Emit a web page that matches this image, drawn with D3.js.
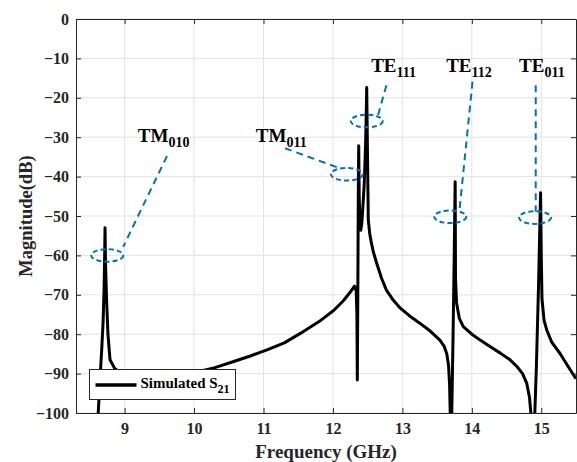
<!DOCTYPE html>
<html lang="en">
<head>
<meta charset="utf-8">
<title>Simulated S21</title>
<script src="https://d3js.org/d3.v7.min.js"></script>
<style>
  body { margin: 0; background: #fff; }
  text { font-family: "Liberation Serif", "Times New Roman", serif; font-weight: bold; }
</style>
</head>
<body>
<script>
// simulated S21 (GHz, dB)
var freq = [8.58, 8.62, 8.65, 8.67, 8.69, 8.705, 8.712, 8.718, 8.725, 8.735, 8.74, 8.76, 8.79, 8.86, 8.95,
  9.1, 9.3, 9.6, 9.9, 10.1, 10.3, 10.56, 10.8, 11.05, 11.3, 11.53, 11.8, 12.01, 12.15, 12.25, 12.31,
  12.335, 12.345, 12.351, 12.358, 12.365, 12.371, 12.378, 12.388, 12.40, 12.415, 12.43, 12.45, 12.47,
  12.482, 12.486, 12.492, 12.50, 12.509, 12.53, 12.55, 12.58, 12.63, 12.7, 12.77, 12.87, 12.97, 13.1,
  13.25, 13.4, 13.54, 13.6, 13.64, 13.665, 13.68, 13.69, 13.70, 13.71, 13.73, 13.745, 13.755, 13.76,
  13.765, 13.78, 13.82, 13.877, 14.0, 14.12, 14.25, 14.41, 14.55, 14.65, 14.73, 14.79, 14.83, 14.855,
  14.88, 14.905, 14.93, 14.96, 14.98, 14.99, 15.0, 15.01, 15.04, 15.08, 15.15, 15.27, 15.38, 15.5];
var s21 = [-108, -100, -90, -84, -77, -68, -61, -53, -62, -68, -71, -80, -86.5, -88.8, -89.8,
  -90.4, -90.7, -90.5, -89.9, -89.3, -88.5, -87, -85.6, -84, -82.2, -79.8, -76.8, -74, -71.5, -69.3, -67.8,
  -69, -75, -91.6, -70, -45, -32.2, -45, -51, -53.6, -52, -48, -42, -32,
  -22, -17.4, -26, -38, -51, -54.5, -56.5, -59, -62, -65.8, -68.8, -71.4, -73.4, -75.3,
  -77.2, -79.2, -81.5, -83, -85, -88, -93, -101, -110, -101, -80, -62, -48, -41.3,
  -66, -72, -76, -78.1, -80, -81.5, -83, -84.8, -86.5, -88.2, -90, -92.4, -96, -101,
  -110, -101, -88, -68, -52, -44.1, -60, -71, -76.5, -79, -82, -84.9, -88, -91.3];

var xTicks = [9, 10, 11, 12, 13, 14, 15];
var yTicks = [0, -10, -20, -30, -40, -50, -60, -70, -80, -90, -100];

// mode annotations
var modeName = ["TM", "TM", "TE", "TE", "TE"];
var modeSub = ["010", "011", "111", "112", "011"];
var labelF = [9.19, 10.89, 12.55, 13.63, 14.68];
var labelDb = [-31.1, -31.1, -13.4, -13.4, -13.4];
var ringF = [8.75, 12.2, 12.486, 13.69, 14.91];
var ringDb = [-60, -39.4, -25.9, -50.2, -50.4];
var leadF0 = [9.61, 11.31, 12.77, 14.01, 14.92];
var leadDb0 = [-34.8, -32.8, -16.8, -15.9, -16.8];
var leadF1 = [8.98, 12.10, 12.65, 13.82, 14.92];
var leadDb1 = [-57.8, -37.9, -24.4, -48.9, -48.9];

var W = 577, H = 462;
var padL = 76, padR = 576, padT = 19, padB = 413;
var blue = "#0072BD";

var svg = d3.select("body").append("svg")
  .attr("width", W)
  .attr("height", H);

var x = d3.scaleLinear().domain([8.3, 15.5]).range([padL, padR]);
var y = d3.scaleLinear().domain([-100, 0]).range([padB, padT]);

// grid
svg.append("g").selectAll("line").data(xTicks).enter().append("line")
  .attr("x1", d => x(d)).attr("x2", d => x(d))
  .attr("y1", padT).attr("y2", padB)
  .attr("stroke", "#e3e3e3").attr("stroke-width", 1);
svg.append("g").selectAll("line").data(yTicks).enter().append("line")
  .attr("x1", padL).attr("x2", padR)
  .attr("y1", d => y(d)).attr("y2", d => y(d))
  .attr("stroke", "#e3e3e3").attr("stroke-width", 1);

// curve
svg.append("clipPath").attr("id", "plot")
  .append("rect").attr("x", padL).attr("y", padT)
  .attr("width", padR - padL).attr("height", padB - padT);

var line = d3.line()
  .x(d => x(d[0]))
  .y(d => y(d[1]));

svg.append("path")
  .datum(d3.zip(freq, s21))
  .attr("clip-path", "url(#plot)")
  .attr("d", line)
  .attr("fill", "none")
  .attr("stroke", "#000")
  .attr("stroke-width", 3)
  .attr("stroke-linejoin", "round");

// axes (ticks point inward)
function styleAxis(g) {
  g.selectAll(".domain").attr("stroke", "#262626");
  g.selectAll(".tick line").attr("stroke", "#262626");
  g.selectAll(".tick text").attr("fill", "#262626")
    .style("font-size", "16px").style("font-family", "Liberation Serif").style("font-weight", "bold");
}

svg.append("g").attr("transform", "translate(0," + padB + ")")
  .call(d3.axisBottom(x).tickValues(xTicks).tickSizeInner(-5).tickSizeOuter(0).tickPadding(10))
  .call(styleAxis);
svg.append("g").attr("transform", "translate(0," + padT + ")")
  .call(d3.axisTop(x).tickValues(xTicks).tickSizeInner(-5).tickSizeOuter(0).tickFormat(""))
  .call(styleAxis);
svg.append("g").attr("transform", "translate(" + padL + ",0)")
  .call(d3.axisLeft(y).tickValues(yTicks).tickSizeInner(-5).tickSizeOuter(0).tickPadding(7))
  .call(styleAxis);
svg.append("g").attr("transform", "translate(" + padR + ",0)")
  .call(d3.axisRight(y).tickValues(yTicks).tickSizeInner(-5).tickSizeOuter(0).tickFormat(""))
  .call(styleAxis);

// axis titles
svg.append("text")
  .attr("x", (padL + padR) / 2).attr("y", 458)
  .attr("text-anchor", "middle")
  .style("font-size", "19px").attr("fill", "#262626")
  .text("Frequency (GHz)");
svg.append("text")
  .attr("transform", "translate(32," + ((padT + padB) / 2) + ") rotate(-90)")
  .attr("text-anchor", "middle")
  .style("font-size", "18.5px").attr("fill", "#262626")
  .text("Magnitude(dB)");

// annotations
var idx = d3.range(modeName.length);
var ann = svg.append("g");
ann.selectAll("ellipse").data(idx).enter().append("ellipse")
  .attr("cx", i => x(ringF[i])).attr("cy", i => y(ringDb[i]))
  .attr("rx", 16).attr("ry", 6.3)
  .attr("fill", "none").attr("stroke", blue)
  .attr("stroke-width", 2).attr("stroke-dasharray", "5,3");
ann.selectAll("line").data(idx).enter().append("line")
  .attr("x1", i => x(leadF0[i])).attr("y1", i => y(leadDb0[i]))
  .attr("x2", i => x(leadF1[i])).attr("y2", i => y(leadDb1[i]))
  .attr("stroke", blue).attr("stroke-width", 2).attr("stroke-dasharray", "7,5");
var lbl = ann.selectAll("text").data(idx).enter().append("text")
  .attr("x", i => x(labelF[i])).attr("y", i => y(labelDb[i]))
  .style("font-size", "19px").attr("fill", "#000");
lbl.append("tspan").text(i => modeName[i]);
lbl.append("tspan").attr("dy", 5).style("font-size", "14px").text(i => modeSub[i]);

// legend
var lg = svg.append("g").attr("transform", "translate(89.5,369.5)");
lg.append("rect").attr("width", 146).attr("height", 30)
  .attr("fill", "#fff").attr("stroke", "#262626").attr("stroke-width", 1);
lg.append("line").attr("x1", 6).attr("x2", 47).attr("y1", 15.5).attr("y2", 15.5)
  .attr("stroke", "#000").attr("stroke-width", 3.5);
var lt = lg.append("text").attr("x", 51).attr("y", 18.5)
  .style("font-size", "15px").attr("fill", "#000");
lt.append("tspan").text("Simulated S");
lt.append("tspan").attr("dy", 5).style("font-size", "12px").text("21");
</script>
</body>
</html>
